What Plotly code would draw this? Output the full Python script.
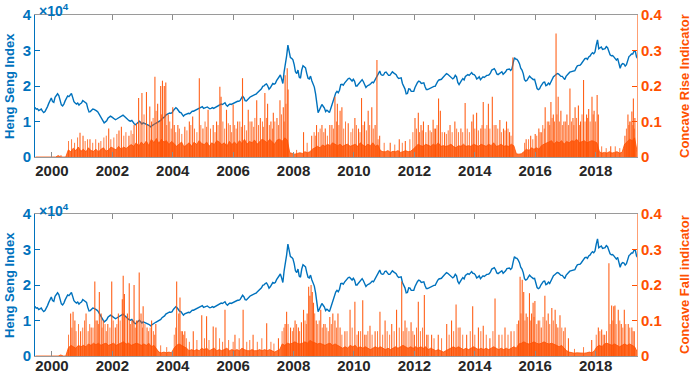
import plotly.graph_objects as go

# ---------------- data ----------------
start_year, start_month = 1999, 6  # first sample month (June 1999)

# Heng Seng Index, two readings per month (first half, second half)
hsi_values = [
    14000, 13500, 13600, 13100, 13300, 13500, 12900, 12500, 12800, 13400, 14200, 15100, 15900, 16600,
    15600, 15400, 16800, 17300, 17800, 17300, 15800, 14700, 14400, 14900, 15800, 16600,
    17200, 17000, 17400, 17900, 16800, 15600, 15200, 14900, 15200, 14600, 15000, 15200,
    15900, 15700, 15500, 15100, 13700, 12700, 12800, 13200, 13500, 13400, 13300, 13000,
    12700, 12100, 11600, 10900, 10200, 9600, 9900, 10200, 10900, 11300, 11500, 11300,
    11000, 10700, 10500, 10700, 10900, 11100, 11300, 11500, 11800, 11500, 11100, 10600,
    10500, 10200, 10100, 10300, 9700, 9300, 9100, 9400, 9900, 10100, 9700, 9300,
    9600, 9500, 9300, 9100, 9000, 8800, 8500, 8800, 9100, 9400, 9500, 9700,
    9900, 10100, 10300, 10800, 11000, 11300, 11800, 12000, 12200, 12400, 12300, 12500,
    13100, 13700, 13900, 13600, 13000, 12600, 12500, 12000, 11500, 11900, 12100, 12200,
    12300, 12200, 12600, 12900, 12900, 13100, 13100, 13300, 13700, 13900, 14100, 14200,
    13700, 13800, 14000, 14100, 13800, 13600, 13700, 13900, 13700, 13900, 14000, 14200,
    14400, 14700, 14900, 14800, 15100, 15300, 14600, 14300, 14700, 14900, 14800, 15000,
    15300, 15500, 15500, 15700, 15700, 15900, 16500, 17100, 16700, 15900, 15800, 16200,
    16700, 16900, 17100, 17300, 17300, 17500, 17800, 18200, 18500, 18700, 19200, 19900,
    20000, 20400, 20600, 20000, 19100, 19500, 20300, 20700, 20500, 20700, 21500, 22000,
    22500, 23100, 22000, 20700, 24000, 26000, 28500, 31500, 29000, 28000, 27800, 27400,
    26000, 24000, 23500, 24500, 22500, 22200, 24500, 25700, 25400, 25100, 23500, 22200,
    22000, 22800, 21500, 20500, 19700, 17800, 15500, 12500, 13200, 13800, 14800, 14300,
    13800, 12800, 13200, 12900, 12500, 13600, 14800, 15600, 17000, 18000, 18500, 18100,
    18800, 20400, 20500, 20200, 20800, 21300, 21500, 22100, 22200, 21800, 21400, 21900,
    21300, 20000, 20000, 20500, 21000, 21200, 21800, 21200, 20200, 19600, 20000, 20100,
    20400, 20700, 21100, 20900, 21600, 22300, 23200, 23700, 24200, 23200, 23000, 23100,
    23800, 23900, 23400, 23000, 23000, 23600, 24000, 23700, 23500, 23200, 22500, 22100,
    22200, 22300, 20700, 19900, 19200, 17800, 17900, 19200, 19100, 18500, 18600, 18500,
    19600, 20400, 21000, 21400, 21200, 20700, 20700, 20900, 19800, 19000, 19000, 19200,
    19500, 19600, 19700, 19900, 19900, 20900, 21300, 21700, 21700, 21900, 22300, 22700,
    23200, 23500, 23300, 22900, 22500, 22300, 22000, 22300, 23000, 22600, 21000, 20400,
    21200, 21600, 22100, 21700, 22700, 23100, 23200, 23000, 23400, 23800, 23300, 23200,
    22800, 22000, 22200, 22600, 21800, 22100, 22600, 22400, 22700, 23000, 23000, 23200,
    23700, 24500, 24700, 24900, 24300, 23400, 23200, 23500, 23800, 24000, 23300, 23600,
    24000, 24600, 24600, 24800, 24400, 24800, 26500, 28000, 27600, 27500, 27000, 26300,
    25000, 24500, 23500, 21800, 21400, 21600, 22200, 22800, 22400, 22000, 21800, 21900,
    20500, 19300, 19000, 19200, 20000, 20600, 21000, 21100, 20100, 20300, 20800, 20400,
    21300, 21900, 22600, 22900, 23300, 23500, 23400, 23100, 22700, 22700, 22300, 21800,
    22700, 23300, 23500, 23900, 24000, 24300, 24300, 24300, 25100, 25700, 25800, 25800,
    26200, 26800, 27500, 27700, 27800, 27500, 28200, 28400, 29000, 29400, 29100, 29600,
    31500, 33000, 30500, 30900, 31000, 30300, 30300, 30500, 31100, 30800, 29800, 28800,
    28500, 28600, 28200, 27800, 27300, 27800, 26000, 25000, 26000, 26300, 26200, 25600,
    26000, 27500, 28300, 28600, 29000, 29000, 29800, 29900, 28200, 27700,
]

# typical (dense) level of the Concave Rise indicator, month by month
rise_band = [
    0, 0, 0, 0, 0, 0, 0,
    0, 0, 0.004, 0, 0, 0, 0.02, 0.015, 0.025, 0.018, 0.028, 0.016,
    0.022, 0.014, 0.026, 0.018, 0.016, 0.022, 0.014, 0.022, 0.026, 0.016, 0.02, 0.028,
    0.024, 0.02, 0.03, 0.022, 0.028, 0.024, 0.03, 0.035, 0.03, 0.04, 0.03, 0.042,
    0.035, 0.045, 0.032, 0.05, 0.04, 0.052, 0.038, 0.05, 0.042, 0.046, 0.035, 0.044,
    0.038, 0.03, 0.036, 0.042, 0.028, 0.035, 0.04, 0.03, 0.042, 0.035, 0.046, 0.038,
    0.035, 0.042, 0.03, 0.04, 0.035, 0.046, 0.042, 0.035, 0.04, 0.03, 0.044, 0.035,
    0.042, 0.035, 0.046, 0.038, 0.05, 0.036, 0.044, 0.04, 0.048, 0.036, 0.044, 0.05,
    0.046, 0.04, 0.05, 0.044, 0.036, 0.048, 0.05, 0.044, 0.054, 0.048, 0.012, 0.01,
    0.008, 0.01, 0.012, 0.01, 0.015, 0.012, 0.015, 0.022, 0.026, 0.03, 0.026, 0.034,
    0.03, 0.036, 0.032, 0.04, 0.036, 0.032, 0.036, 0.03, 0.034, 0.036, 0.03, 0.034,
    0.036, 0.03, 0.04, 0.034, 0.03, 0.036, 0.032, 0.04, 0.03, 0.034, 0.018, 0.015,
    0.015, 0.018, 0.013, 0.016, 0.015, 0.018, 0.013, 0.015, 0.018, 0.015, 0.016, 0.022,
    0.03, 0.036, 0.032, 0.03, 0.036, 0.032, 0.03, 0.036, 0.032, 0.04, 0.03, 0.032,
    0.03, 0.032, 0.036, 0.03, 0.026, 0.032, 0.03, 0.036, 0.03, 0.032, 0.03, 0.036,
    0.032, 0.03, 0.036, 0.032, 0.03, 0.036, 0.032, 0.04, 0.03, 0.032, 0.036, 0.03,
    0.032, 0.03, 0.036, 0.032, 0.009, 0.008, 0.009, 0.015, 0.022, 0.018, 0.026, 0.022,
    0.026, 0.022, 0.032, 0.036, 0.04, 0.044, 0.046, 0.036, 0.044, 0.04, 0.046, 0.036,
    0.044, 0.04, 0.046, 0.044, 0.05, 0.04, 0.044, 0.046, 0.04, 0.044, 0.046, 0.044,
    0.04, 0.015, 0.011, 0.013, 0.011, 0.015, 0.011, 0.013, 0.015, 0.011, 0.013, 0.036,
    0.044, 0.05, 0.046, 0.054, 0.015,
]

# typical (dense) level of the Concave Fall indicator, month by month
fall_band = [
    0, 0, 0, 0, 0, 0, 0,
    0, 0, 0, 0.003, 0, 0, 0.022, 0.03, 0.026, 0.022, 0.03, 0.026,
    0.03, 0.026, 0.034, 0.03, 0.036, 0.032, 0.036, 0.03, 0.034, 0.036, 0.03, 0.034,
    0.036, 0.03, 0.034, 0.036, 0.04, 0.034, 0.036, 0.03, 0.034, 0.036, 0.034, 0.03,
    0.034, 0.03, 0.036, 0.026, 0.03, 0.022, 0.011, 0.009, 0.011, 0.009, 0.011, 0.009,
    0.022, 0.03, 0.034, 0.03, 0.026, 0.022, 0.015, 0.018, 0.015, 0.018, 0.015, 0.022,
    0.018, 0.022, 0.015, 0.018, 0.022, 0.015, 0.018, 0.015, 0.018, 0.022, 0.015, 0.018,
    0.015, 0.018, 0.015, 0.022, 0.018, 0.015, 0.015, 0.018, 0.015, 0.015, 0.018, 0.015,
    0.018, 0.015, 0.018, 0.015, 0.011, 0.015, 0.018, 0.034, 0.03, 0.036, 0.034, 0.036,
    0.04, 0.036, 0.034, 0.036, 0.04, 0.036, 0.044, 0.04, 0.036, 0.034, 0.036, 0.034,
    0.03, 0.034, 0.036, 0.03, 0.034, 0.03, 0.026, 0.022, 0.026, 0.022, 0.03, 0.026,
    0.03, 0.022, 0.026, 0.022, 0.026, 0.022, 0.018, 0.022, 0.026, 0.022, 0.026, 0.022,
    0.018, 0.022, 0.018, 0.022, 0.026, 0.022, 0.026, 0.03, 0.026, 0.022, 0.026, 0.022,
    0.026, 0.022, 0.026, 0.022, 0.026, 0.018, 0.022, 0.018, 0.015, 0.018, 0.015, 0.011,
    0.015, 0.018, 0.022, 0.026, 0.022, 0.026, 0.022, 0.018, 0.022, 0.018, 0.022, 0.026,
    0.022, 0.018, 0.022, 0.018, 0.022, 0.018, 0.022, 0.026, 0.022, 0.018, 0.022, 0.018,
    0.022, 0.018, 0.022, 0.026, 0.022, 0.034, 0.036, 0.04, 0.036, 0.034, 0.036, 0.04,
    0.036, 0.034, 0.036, 0.04, 0.036, 0.034, 0.036, 0.034, 0.03, 0.026, 0.03, 0.022,
    0.015, 0.011, 0.009, 0.008, 0.009, 0.008, 0.009, 0.008, 0.009, 0.011, 0.009, 0.015,
    0.026, 0.03, 0.026, 0.034, 0.036, 0.034, 0.03, 0.034, 0.03, 0.026, 0.03, 0.034,
    0.03, 0.034, 0.03, 0.026, 0.012,
]

# tall spikes of the Concave Rise indicator (decimal year, height)
rise_spike_x = [
    2000.30, 2000.93, 2001.03, 2001.26, 2001.55, 2001.88, 2002.22, 2002.30, 2002.55, 2002.72,
    2002.80, 2002.87, 2002.98, 2003.13, 2003.24, 2003.30, 2003.41, 2003.50, 2003.60, 2003.66,
    2003.72, 2003.77, 2003.85, 2004.00, 2004.05, 2004.17, 2004.40, 2004.55, 2004.66, 2004.88,
    2005.00, 2005.17, 2005.34, 2005.45, 2005.56, 2005.60, 2005.78, 2005.90, 2006.00, 2006.15,
    2006.31, 2006.50, 2006.62, 2006.78, 2006.90, 2007.05, 2007.14, 2007.25, 2007.33, 2007.45,
    2007.55, 2007.66, 2007.72, 2007.79, 2007.82, 2008.33, 2008.60, 2008.76, 2008.94, 2009.05,
    2009.20, 2009.27, 2009.37, 2009.45, 2009.54, 2009.60, 2009.81, 2010.03, 2010.15, 2010.25,
    2010.35, 2010.47, 2010.59, 2010.70, 2010.76, 2010.85, 2011.20, 2011.50, 2011.70, 2012.02,
    2012.13, 2012.22, 2012.30, 2012.46, 2012.62, 2012.70, 2012.80, 2012.86, 2013.00, 2013.18,
    2013.34, 2013.54, 2013.68, 2013.90, 2013.95, 2014.06, 2014.20, 2014.28, 2014.45, 2014.58,
    2014.70, 2014.83, 2014.95, 2015.05, 2015.15, 2015.26, 2015.70, 2015.85, 2016.00, 2016.12,
    2016.20, 2016.33, 2016.45, 2016.52, 2016.60, 2016.69, 2016.76, 2016.85, 2016.95, 2017.05,
    2017.15, 2017.25, 2017.32, 2017.43, 2017.50, 2017.60, 2017.70, 2017.77, 2017.88, 2017.95,
    2018.05, 2018.09, 2018.50, 2018.97, 2019.07, 2019.13, 2019.20, 2019.25, 2019.30,
]
rise_spike_h = [
    0.005, 0.068, 0.060, 0.050, 0.040, 0.080, 0.075, 0.085, 0.060, 0.090,
    0.095, 0.166, 0.180, 0.183, 0.142, 0.100, 0.226, 0.150, 0.200, 0.215,
    0.200, 0.210, 0.120, 0.140, 0.090, 0.090, 0.085, 0.100, 0.114, 0.222,
    0.080, 0.133, 0.090, 0.100, 0.198, 0.170, 0.133, 0.090, 0.148, 0.100,
    0.222, 0.133, 0.100, 0.160, 0.110, 0.180, 0.150, 0.100, 0.125, 0.110,
    0.160, 0.140, 0.230, 0.250, 0.190, 0.070, 0.060, 0.090, 0.090, 0.080,
    0.090, 0.090, 0.170, 0.150, 0.130, 0.140, 0.095, 0.110, 0.080, 0.166,
    0.100, 0.130, 0.140, 0.090, 0.273, 0.060, 0.040, 0.050, 0.045, 0.110,
    0.125, 0.090, 0.100, 0.090, 0.105, 0.080, 0.165, 0.130, 0.070, 0.090,
    0.100, 0.080, 0.152, 0.100, 0.120, 0.125, 0.080, 0.155, 0.150, 0.170,
    0.090, 0.104, 0.080, 0.100, 0.070, 0.280, 0.050, 0.060, 0.065, 0.080,
    0.070, 0.140, 0.100, 0.155, 0.120, 0.348, 0.170, 0.130, 0.100, 0.120,
    0.193, 0.110, 0.140, 0.145, 0.100, 0.217, 0.120, 0.135, 0.170, 0.130,
    0.175, 0.120, 0.030, 0.060, 0.120, 0.100, 0.128, 0.165, 0.110,
]

# smaller, dense spikes of the Concave Rise indicator
rise_minor_x = [
    2000.55, 2000.65, 2000.75, 2000.85, 2001.10, 2001.18, 2001.35, 2001.45, 2001.62, 2001.72,
    2001.80, 2001.95, 2002.05, 2002.15, 2002.38, 2002.45, 2002.62, 2002.68, 2002.92, 2003.05,
    2003.18, 2003.35, 2003.45, 2003.55, 2003.63, 2003.80, 2003.90, 2003.95, 2004.10, 2004.22,
    2004.30, 2004.47, 2004.60, 2004.72, 2004.80, 2004.93, 2005.07, 2005.12, 2005.25, 2005.40,
    2005.50, 2005.66, 2005.72, 2005.84, 2005.95, 2006.05, 2006.10, 2006.22, 2006.27, 2006.38,
    2006.44, 2006.56, 2006.68, 2006.72, 2006.84, 2006.97, 2007.00, 2007.10, 2007.20, 2007.30,
    2007.38, 2007.50, 2007.60, 2007.69, 2007.75, 2008.10, 2008.45, 2008.68, 2008.72, 2008.82,
    2008.88, 2009.00, 2009.12, 2009.32, 2009.42, 2009.50, 2009.66, 2009.72, 2009.90, 2009.96,
    2010.08, 2010.20, 2010.30, 2010.41, 2010.52, 2010.64, 2010.80, 2011.00, 2011.35, 2011.60,
    2011.85, 2011.95, 2012.07, 2012.17, 2012.26, 2012.38, 2012.52, 2012.57, 2012.66, 2012.75,
    2012.92, 2013.06, 2013.12, 2013.25, 2013.40, 2013.46, 2013.60, 2013.75, 2013.82, 2014.00,
    2014.12, 2014.24, 2014.34, 2014.40, 2014.50, 2014.64, 2014.76, 2014.88, 2015.00, 2015.10,
    2015.20, 2015.65, 2015.78, 2015.92, 2016.05, 2016.16, 2016.25, 2016.30, 2016.40, 2016.48,
    2016.56, 2016.64, 2016.72, 2016.80, 2016.90, 2017.00, 2017.10, 2017.20, 2017.28, 2017.37,
    2017.47, 2017.55, 2017.65, 2017.73, 2017.82, 2017.92, 2018.00, 2018.20, 2018.35, 2018.65,
    2018.80, 2019.02, 2019.10, 2019.17, 2019.23, 2019.28,
]
rise_minor_h = [
    0.045, 0.050, 0.040, 0.055, 0.045, 0.050, 0.040, 0.050, 0.045, 0.055,
    0.060, 0.050, 0.055, 0.065, 0.060, 0.070, 0.075, 0.065, 0.100, 0.120,
    0.090, 0.110, 0.130, 0.100, 0.120, 0.090, 0.100, 0.080, 0.070, 0.080,
    0.065, 0.075, 0.090, 0.080, 0.070, 0.090, 0.100, 0.085, 0.080, 0.070,
    0.090, 0.100, 0.080, 0.095, 0.070, 0.090, 0.080, 0.100, 0.085, 0.090,
    0.075, 0.100, 0.085, 0.110, 0.090, 0.100, 0.085, 0.110, 0.090, 0.080,
    0.100, 0.090, 0.120, 0.100, 0.150, 0.020, 0.040, 0.070, 0.060, 0.070,
    0.080, 0.070, 0.060, 0.080, 0.100, 0.090, 0.080, 0.100, 0.070, 0.080,
    0.090, 0.070, 0.090, 0.075, 0.090, 0.080, 0.050, 0.040, 0.035, 0.040,
    0.050, 0.070, 0.080, 0.070, 0.075, 0.070, 0.075, 0.070, 0.080, 0.090,
    0.070, 0.065, 0.075, 0.070, 0.080, 0.070, 0.070, 0.080, 0.070, 0.080,
    0.075, 0.090, 0.080, 0.090, 0.080, 0.090, 0.080, 0.070, 0.075, 0.080,
    0.060, 0.040, 0.050, 0.050, 0.060, 0.070, 0.090, 0.080, 0.100, 0.090,
    0.110, 0.100, 0.120, 0.100, 0.090, 0.100, 0.090, 0.100, 0.090, 0.110,
    0.090, 0.120, 0.100, 0.110, 0.100, 0.120, 0.100, 0.030, 0.025, 0.030,
    0.025, 0.080, 0.090, 0.100, 0.090, 0.080,
]

# tall spikes of the Concave Fall indicator (decimal year, height)
fall_spike_x = [
    2000.62, 2000.70, 2000.76, 2000.95, 2001.13, 2001.30, 2001.42, 2001.50, 2001.57, 2001.63,
    2001.70, 2001.85, 2001.98, 2002.10, 2002.20, 2002.33, 2002.36, 2002.40, 2002.50, 2002.56,
    2002.65, 2002.72, 2002.80, 2002.89, 2002.95, 2003.02, 2003.15, 2003.30, 2003.44, 2004.13,
    2004.20, 2004.24, 2004.32, 2004.40, 2004.68, 2004.96, 2005.12, 2005.34, 2005.43, 2005.73,
    2006.06, 2006.33, 2006.66, 2007.11, 2007.50, 2007.72, 2007.77, 2007.90, 2008.05, 2008.16,
    2008.26, 2008.33, 2008.45, 2008.50, 2008.54, 2008.58, 2008.62, 2008.66, 2008.75, 2008.90,
    2009.00, 2009.20, 2009.30, 2009.37, 2009.47, 2009.54, 2009.70, 2009.87, 2010.03, 2010.15,
    2010.29, 2010.40, 2010.53, 2010.70, 2010.86, 2011.03, 2011.25, 2011.41, 2011.58, 2011.69,
    2011.89, 2012.00, 2012.13, 2012.33, 2012.45, 2012.57, 2012.79, 2013.07, 2013.23, 2013.38,
    2013.51, 2013.73, 2013.93, 2014.12, 2014.28, 2014.50, 2014.67, 2014.80, 2015.00, 2015.20,
    2015.45, 2015.50, 2015.57, 2015.62, 2015.70, 2015.81, 2015.88, 2015.93, 2015.99, 2016.10,
    2016.20, 2016.32, 2016.43, 2016.55, 2016.66, 2016.75, 2016.82, 2016.99, 2017.10, 2017.87,
    2018.09, 2018.20, 2018.30, 2018.44, 2018.53, 2018.60, 2018.64, 2018.75, 2018.85, 2018.95,
    2019.08, 2019.20, 2019.28,
]
fall_spike_h = [
    0.120, 0.125, 0.100, 0.070, 0.120, 0.080, 0.210, 0.100, 0.180, 0.120,
    0.100, 0.090, 0.210, 0.080, 0.120, 0.160, 0.226, 0.175, 0.120, 0.205,
    0.100, 0.200, 0.100, 0.235, 0.120, 0.140, 0.080, 0.100, 0.090, 0.210,
    0.120, 0.165, 0.070, 0.070, 0.070, 0.115, 0.112, 0.083, 0.080, 0.130,
    0.060, 0.130, 0.060, 0.092, 0.050, 0.090, 0.125, 0.080, 0.100, 0.080,
    0.095, 0.130, 0.120, 0.195, 0.170, 0.200, 0.180, 0.150, 0.100, 0.130,
    0.090, 0.110, 0.120, 0.100, 0.120, 0.080, 0.070, 0.130, 0.153, 0.070,
    0.157, 0.060, 0.085, 0.070, 0.125, 0.100, 0.090, 0.130, 0.210, 0.100,
    0.095, 0.060, 0.153, 0.172, 0.060, 0.060, 0.060, 0.090, 0.100, 0.145,
    0.080, 0.060, 0.140, 0.080, 0.085, 0.050, 0.162, 0.060, 0.080, 0.070,
    0.100, 0.223, 0.215, 0.180, 0.120, 0.177, 0.120, 0.150, 0.155, 0.100,
    0.080, 0.170, 0.120, 0.135, 0.130, 0.080, 0.115, 0.080, 0.050, 0.045,
    0.080, 0.075, 0.060, 0.261, 0.142, 0.140, 0.142, 0.130, 0.090, 0.130,
    0.090, 0.080, 0.070,
]

# smaller, dense spikes of the Concave Fall indicator
fall_minor_x = [
    2000.55, 2000.66, 2000.80, 2000.88, 2001.02, 2001.08, 2001.20, 2001.25, 2001.36, 2001.46,
    2001.54, 2001.66, 2001.76, 2001.80, 2001.92, 2002.03, 2002.15, 2002.26, 2002.45, 2002.60,
    2002.68, 2002.76, 2002.84, 2003.00, 2003.08, 2003.20, 2003.25, 2003.36, 2003.40, 2003.60,
    2003.80, 2004.05, 2004.10, 2004.28, 2004.36, 2004.45, 2004.55, 2004.80, 2005.05, 2005.20,
    2005.55, 2005.65, 2005.85, 2006.00, 2006.20, 2006.45, 2006.55, 2006.80, 2006.95, 2007.25,
    2007.35, 2007.62, 2007.68, 2007.82, 2007.96, 2008.00, 2008.10, 2008.20, 2008.38, 2008.42,
    2008.70, 2008.80, 2008.85, 2008.95, 2009.05, 2009.10, 2009.15, 2009.25, 2009.42, 2009.60,
    2009.77, 2009.94, 2010.10, 2010.22, 2010.35, 2010.46, 2010.60, 2010.78, 2010.95, 2011.10,
    2011.18, 2011.33, 2011.50, 2011.63, 2011.75, 2011.82, 2011.95, 2012.07, 2012.20, 2012.27,
    2012.40, 2012.65, 2012.90, 2013.15, 2013.30, 2013.45, 2013.60, 2013.85, 2014.00, 2014.20,
    2014.38, 2014.60, 2014.90, 2015.10, 2015.30, 2015.40, 2015.53, 2015.66, 2015.75, 2015.85,
    2015.96, 2016.05, 2016.15, 2016.26, 2016.37, 2016.48, 2016.60, 2016.70, 2016.88, 2016.94,
    2017.30, 2017.60, 2018.02, 2018.14, 2018.25, 2018.36, 2018.48, 2018.57, 2018.68, 2018.80,
    2018.90, 2019.00, 2019.13, 2019.24,
]
fall_minor_h = [
    0.060, 0.080, 0.070, 0.090, 0.080, 0.100, 0.070, 0.090, 0.080, 0.100,
    0.090, 0.080, 0.090, 0.070, 0.080, 0.100, 0.090, 0.100, 0.110, 0.090,
    0.100, 0.080, 0.100, 0.080, 0.090, 0.070, 0.080, 0.070, 0.060, 0.030,
    0.025, 0.060, 0.080, 0.070, 0.060, 0.050, 0.040, 0.045, 0.050, 0.045,
    0.050, 0.040, 0.045, 0.040, 0.050, 0.040, 0.045, 0.040, 0.050, 0.040,
    0.035, 0.070, 0.080, 0.090, 0.070, 0.080, 0.090, 0.070, 0.100, 0.090,
    0.120, 0.090, 0.100, 0.080, 0.090, 0.080, 0.070, 0.090, 0.080, 0.060,
    0.070, 0.080, 0.060, 0.070, 0.060, 0.070, 0.060, 0.070, 0.060, 0.070,
    0.060, 0.070, 0.080, 0.070, 0.080, 0.070, 0.070, 0.080, 0.070, 0.080,
    0.060, 0.050, 0.050, 0.060, 0.070, 0.080, 0.060, 0.070, 0.060, 0.070,
    0.060, 0.070, 0.060, 0.060, 0.070, 0.090, 0.120, 0.100, 0.110, 0.100,
    0.110, 0.090, 0.100, 0.110, 0.100, 0.090, 0.100, 0.090, 0.080, 0.070,
    0.020, 0.025, 0.060, 0.070, 0.060, 0.070, 0.090, 0.100, 0.090, 0.100,
    0.080, 0.090, 0.080, 0.070,
]

year_ticks = [2000, 2002, 2004, 2006, 2008, 2010, 2012, 2014, 2016, 2018]
hsi_ticks = [0, 10000, 20000, 30000, 40000]
hsi_tick_text = ["0", "1", "2", "3", "4"]
ind_ticks = [0, 0.1, 0.2, 0.3, 0.4]
ind_tick_text = ["0", "0.1", "0.2", "0.3", "0.4"]

# ---------------- time positions ----------------
month_x = []
yy, mm = start_year, start_month
for _ in range(len(rise_band)):
    month_x.append(yy + (mm - 0.5) / 12)
    mm += 1
    if mm > 12:
        mm = 1
        yy += 1

half_x = []
yy, mm = start_year, start_month
while len(half_x) < len(hsi_values):
    half_x.append(yy + (mm - 0.75) / 12)
    half_x.append(yy + (mm - 0.25) / 12)
    mm += 1
    if mm > 12:
        mm = 1
        yy += 1


def stems(xs, hs):
    sx, sy = [], []
    for x, h in zip(xs, hs):
        sx += [x, x, None]
        sy += [0, h, None]
    return sx, sy


BLUE = "#0072BD"
ORANGE = "#FF5000"
FONT = "Liberation Sans"

fig = go.Figure()

panels = [
    ("x", "y", "y2", rise_band, rise_minor_x, rise_minor_h, rise_spike_x, rise_spike_h),
    ("x2", "y3", "y4", fall_band, fall_minor_x, fall_minor_h, fall_spike_x, fall_spike_h),
]
for xa, ya, ya2, band, mxv, mhv, sxv, shv in panels:
    fig.add_trace(go.Scatter(x=half_x, y=hsi_values, mode="lines",
                             line=dict(color=BLUE, width=1.4),
                             xaxis=xa, yaxis=ya, showlegend=False))
    fig.add_trace(go.Scatter(x=month_x, y=band, mode="lines", fill="tozeroy",
                             fillcolor="rgba(255,80,0,0.8)",
                             line=dict(color=ORANGE, width=0.8),
                             xaxis=xa, yaxis=ya2, showlegend=False))
    mx, my = stems(mxv, mhv)
    fig.add_trace(go.Scatter(x=mx, y=my, mode="lines",
                             line=dict(color="rgba(255,80,0,0.75)", width=1.0),
                             xaxis=xa, yaxis=ya2, showlegend=False))
    sx, sy = stems(sxv, shv)
    fig.add_trace(go.Scatter(x=sx, y=sy, mode="lines",
                             line=dict(color="rgba(255,80,0,0.9)", width=1.1),
                             xaxis=xa, yaxis=ya2, showlegend=False))

W, H = 692, 373
plot_left, plot_right = 35, 637
top_top, top_bot = 15, 157
bot_top, bot_bot = 214, 356
L, R, T, B = plot_left, W - plot_right, top_top, H - bot_bot
ph = H - T - B
top_dom = [(bot_bot - top_bot) / ph, 1.0]
bot_dom = [0.0, (bot_bot - bot_top) / ph]

xcommon = dict(range=[1999.44, 2019.37], tickvals=year_ticks,
               ticktext=[str(v) for v in year_ticks],
               ticks="inside", ticklen=5, tickcolor="#8c8c8c",
               showline=True, linecolor="#9a9a9a", linewidth=1, mirror="ticks",
               showgrid=False, zeroline=False, automargin=False,
               tickfont=dict(family=FONT, size=15, color="#262626", weight="bold"))
yleft = dict(range=[0, 40000], tickvals=hsi_ticks, ticktext=hsi_tick_text,
             ticks="inside", ticklen=5, tickcolor=BLUE,
             showline=True, linecolor=BLUE, linewidth=1,
             showgrid=False, zeroline=False, automargin=False,
             tickfont=dict(family=FONT, size=15, color=BLUE, weight="bold"))
yright = dict(range=[0, 0.4], tickvals=ind_ticks, ticktext=ind_tick_text,
              side="right", ticks="inside", ticklen=5, tickcolor=ORANGE,
              showline=True, linecolor="rgba(255,80,0,0.55)", linewidth=1,
              showgrid=False, zeroline=False, automargin=False,
              tickfont=dict(family=FONT, size=15, color=ORANGE, weight="bold"))

fig.update_layout(
    width=W, height=H,
    margin=dict(l=L, r=R, t=T, b=B, autoexpand=False),
    paper_bgcolor="white", plot_bgcolor="white",
    xaxis=dict(domain=[0, 1], anchor="y", ticklabelstandoff=0, **xcommon),
    xaxis2=dict(domain=[0, 1], anchor="y3", ticklabelstandoff=-4, **xcommon),
    yaxis=dict(domain=top_dom, anchor="x", **yleft),
    yaxis2=dict(overlaying="y", anchor="x", **yright),
    yaxis3=dict(domain=bot_dom, anchor="x2", **yleft),
    yaxis4=dict(overlaying="y3", anchor="x2", **yright),
)


def px_x(p):  # page pixel -> paper fraction
    return (p - L) / (W - L - R)


def px_y(p):
    return (H - B - p) / ph


ann = []
for cy, rtitle, ey in [(86, "Concave Rise Indicator", 10), (285, "Concave Fall indicator", 210)]:
    ann.append(dict(x=px_x(9), y=px_y(cy), xref="paper", yref="paper",
                    text="Heng Seng Index", textangle=-90, showarrow=False,
                    xanchor="center", yanchor="middle",
                    font=dict(family=FONT, size=13, color=BLUE, weight="bold")))
    ann.append(dict(x=px_x(684), y=px_y(cy), xref="paper", yref="paper",
                    text=rtitle, textangle=-90, showarrow=False,
                    xanchor="center", yanchor="middle",
                    font=dict(family=FONT, size=13, color=ORANGE, weight="bold")))
    ann.append(dict(x=px_x(37), y=px_y(ey), xref="paper", yref="paper",
                    text="×10<sup>4</sup>", showarrow=False,
                    xanchor="left", yanchor="middle",
                    font=dict(family=FONT, size=14, color=BLUE, weight="bold")))
fig.update_layout(annotations=ann)

# remove the default 8 px page margin so the figure fills the window exactly
fig.write_html("out.html", config={"displayModeBar": False},
               post_script="document.body.style.margin='0px';")
